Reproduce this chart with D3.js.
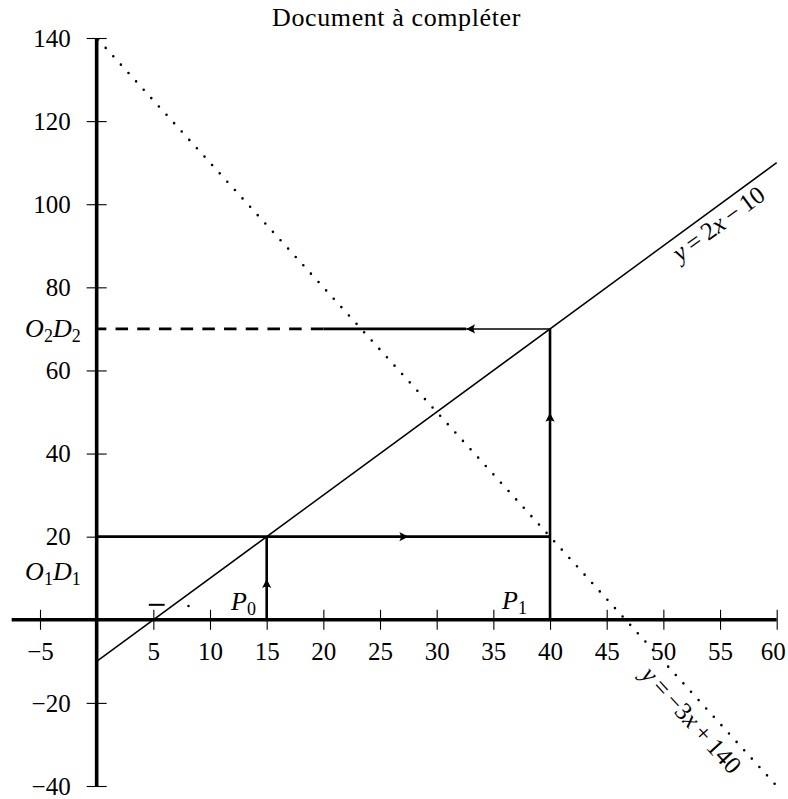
<!DOCTYPE html>
<html>
<head>
<meta charset="utf-8">
<script src="https://cdn.jsdelivr.net/npm/d3@7"></script>
<style>
  body { margin: 0; background: #fff; }
  svg text { font-family: "Liberation Serif", "DejaVu Serif", serif; fill: #000; }
</style>
</head>
<body>
<svg id="chart" width="788" height="799"></svg>
<script>
// axis ticks
const xTicks = [-5, 5, 10, 15, 20, 25, 30, 35, 40, 45, 50, 55, 60];
const yTicks = [-40, -20, 20, 40, 60, 80, 100, 120, 140];

// the two lines: y = a*x + b
const lineUp = { a: 2, b: -10, from: 0, to: 60 };
const lineDown = { a: -3, b: 140, from: 0, to: 60 };

// cobweb path (data units)
const cobwebThick = [
  [[0, 20], [40, 20]],
  [[15, 0], [15, 20]],
  [[40, 0], [40, 70]],
  [[32.6, 70], [20, 70]]
];
const cobwebThin = [[[40, 70], [32.6, 70]]];
const cobwebDashed = [[[20, 70], [0, 70]]];

// arrow tips: x, y, direction in degrees (0 = right)
const arrows = [
  { x: 27.5, y: 20, dir: 0 },
  { x: 15, y: 9.8, dir: -90 },
  { x: 40, y: 49.8, dir: -90 },
  { x: 32.6, y: 70, dir: 180 }
];

// labels
const pointLabels = [
  { main: ['O', 'D'], sub: ['1', '1'], x: 0, y: 11.6, anchor: 'end' },
  { main: ['O', 'D'], sub: ['2', '2'], x: 0, y: 70, anchor: 'end' },
  { main: ['P'], sub: ['0'], x: 14.05, y: 4.3, anchor: 'end' },
  { main: ['P'], sub: ['1'], x: 37.97, y: 4.6, anchor: 'end' }
];

// stray marks near x = 5
const strayDash = [[4.6, 3.6], [6.0, 3.6]];
const strayDot = [8.1, 3.3];

const svg = d3.select('#chart');
const x = d3.scaleLinear().domain([-5, 60]).range([40, 776.7]);
const y = d3.scaleLinear().domain([-40, 140]).range([786, 38]);
const line = d3.line().x(d => x(d[0])).y(d => y(d[1]));
const fmt = d => d < 0 ? '\u2212' + Math.abs(d) : d;

// title
svg.append('text')
  .attr('x', 396.5).attr('y', 26)
  .attr('text-anchor', 'middle')
  .style('font-size', '26px')
  .style('letter-spacing', '0.6px')
  .text('Document à compléter');

// x axis
const gx = svg.append('g')
  .attr('transform', 'translate(0,' + y(0) + ')')
  .call(d3.axisBottom(x).tickValues(xTicks).tickSize(10).tickFormat(fmt));
gx.select('.domain').remove();
gx.selectAll('.tick line').attr('y1', -10).attr('stroke-width', 1.1);
gx.selectAll('.tick text')
  .attr('y', 40).attr('dy', 0)
  .attr('x', d => d === 60 ? -4 : 0)
  .style('font-size', '25px').style('font-family', null);
svg.append('path')
  .datum([[-7.5, 0], [60, 0]])
  .attr('d', line)
  .attr('stroke', '#000').attr('stroke-width', 3.6).attr('fill', 'none');

// y axis
const gy = svg.append('g')
  .attr('transform', 'translate(' + x(0) + ',0)')
  .call(d3.axisLeft(y).tickValues(yTicks).tickSize(10).tickPadding(16).tickFormat(fmt));
gy.select('.domain').remove();
gy.selectAll('.tick line').attr('x1', 10).attr('stroke-width', 1.1);
gy.selectAll('.tick text')
  .attr('dy', '0.33em')
  .style('font-size', '25px').style('font-family', null);
svg.append('path')
  .datum([[0, -40], [0, 140]])
  .attr('d', line)
  .attr('stroke', '#000').attr('stroke-width', 3.6).attr('fill', 'none');

// y = 2x - 10
svg.append('path')
  .datum([[lineUp.from, lineUp.a * lineUp.from + lineUp.b], [lineUp.to, lineUp.a * lineUp.to + lineUp.b]])
  .attr('d', line)
  .attr('stroke', '#000').attr('stroke-width', 1.5).attr('fill', 'none');

// y = -3x + 140 dotted
svg.append('path')
  .datum([[lineDown.from, lineDown.a * lineDown.from + lineDown.b], [lineDown.to, lineDown.a * lineDown.to + lineDown.b]])
  .attr('d', line)
  .attr('stroke', '#000').attr('stroke-width', 2.6)
  .attr('stroke-linecap', 'round')
  .attr('stroke-dasharray', '0 11.3')
  .attr('stroke-dashoffset', -2.1)
  .attr('fill', 'none');

// cobweb
cobwebThick.forEach(s => {
  svg.append('path').datum(s).attr('d', line)
    .attr('stroke', '#000').attr('stroke-width', 2.6).attr('fill', 'none');
});
cobwebThin.forEach(s => {
  svg.append('path').datum(s).attr('d', line)
    .attr('stroke', '#000').attr('stroke-width', 1.5).attr('fill', 'none');
});
cobwebDashed.forEach(s => {
  svg.append('path').datum(s).attr('d', line)
    .attr('stroke', '#000').attr('stroke-width', 2.6)
    .attr('stroke-dasharray', '12.5 9.2').attr('fill', 'none');
});

// arrow heads
svg.append('g').selectAll('path')
  .data(arrows)
  .enter()
  .append('path')
  .attr('d', 'M0,0 L-9,-4.6 Q-6,0 -9,4.6 Z')
  .attr('transform', d => 'translate(' + x(d.x) + ',' + y(d.y) + ') rotate(' + d.dir + ')')
  .attr('fill', '#000');

// rotated line labels
const angUp = Math.atan2(y(lineUp.a) - y(0), x(1) - x(0)) * 180 / Math.PI;
const angDown = Math.atan2(y(lineDown.a) - y(0), x(1) - x(0)) * 180 / Math.PI;

function mathLabel(g, parts) {
  parts.forEach(p => {
    g.append('tspan').text(p[0]).style('font-style', p[1] ? 'italic' : 'normal');
  });
}

const lblUp = svg.append('text')
  .attr('transform', 'translate(' + x(54.1) + ',' + y(lineUp.a * 54.1 + lineUp.b) + ') rotate(' + angUp + ')')
  .attr('text-anchor', 'middle')
  .attr('y', 23)
  .style('font-size', '25px');
mathLabel(lblUp, [['y', true], ['\u2009=\u20092', false], ['x', true], ['\u2009\u2212\u200910', false]]);

const lblDown = svg.append('text')
  .attr('transform', 'translate(' + x(53.7) + ',' + y(lineDown.a * 53.7 + lineDown.b) + ') rotate(' + angDown + ')')
  .attr('text-anchor', 'middle')
  .attr('y', 27)
  .style('font-size', '25px');
mathLabel(lblDown, [['y', true], ['\u2009=\u2009\u22123', false], ['x', true], ['\u2009+\u2009140', false]]);

// point labels with subscripts
pointLabels.forEach(p => {
  const t = svg.append('text')
    .attr('x', p.x === 0 ? x(0) - 16 : x(p.x))
    .attr('y', y(p.y) + 8)
    .attr('text-anchor', p.anchor)
    .style('font-size', '26px');
  p.main.forEach((m, i) => {
    t.append('tspan').text(m).style('font-style', 'italic').attr('dy', i === 0 ? 0 : -5);
    t.append('tspan').text(p.sub[i]).style('font-size', '18px').attr('dy', 5);
  });
});

// stray marks
svg.append('path').datum(strayDash).attr('d', line)
  .attr('stroke', '#000').attr('stroke-width', 2).attr('fill', 'none');
svg.append('circle')
  .attr('cx', x(strayDot[0])).attr('cy', y(strayDot[1]))
  .attr('r', 1.3).attr('fill', '#000');
</script>
</body>
</html>
